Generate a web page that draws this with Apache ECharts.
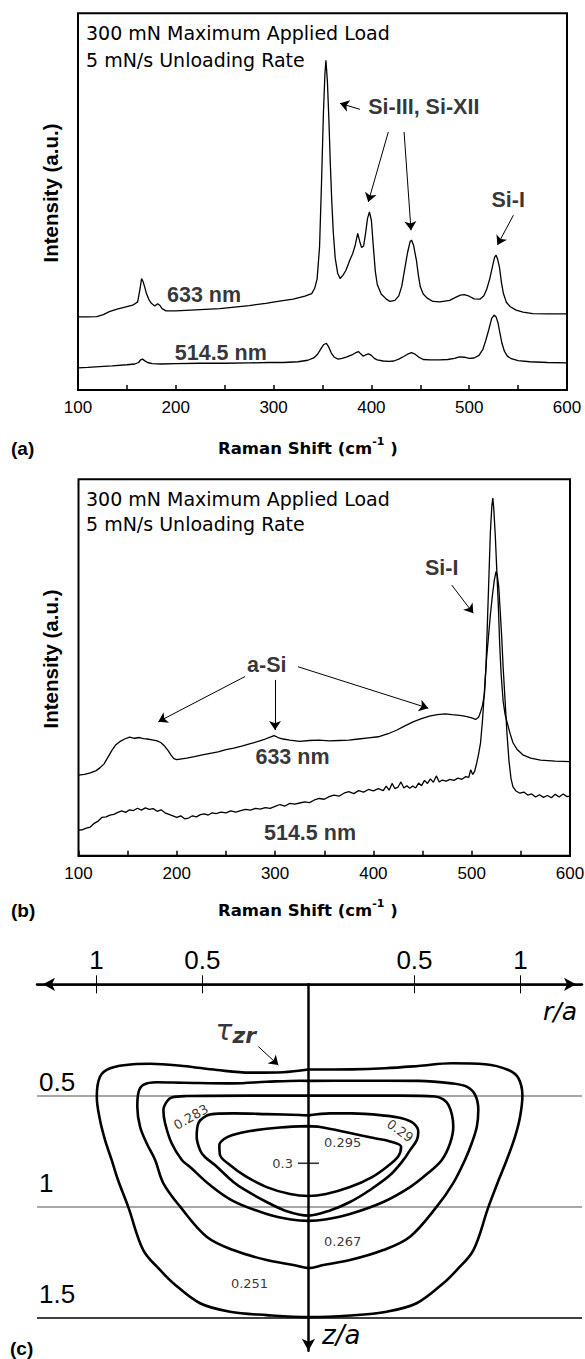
<!DOCTYPE html>
<html lang="en">
<head>
<meta charset="utf-8">
<title>Raman spectra and shear stress contours</title>
<script src="https://cdn.jsdelivr.net/npm/echarts@6.0.0/dist/echarts.min.js"></script>
<style>
  html, body { margin: 0; padding: 0; background: #fff; }
  #chart { width: 585px; height: 1359px; }
</style>
</head>
<body>
<div id="chart"></div>
<script>
// ---------- data ----------
// Raman shift ticks (cm-1)
const shiftTicks = [100, 200, 300, 400, 500, 600];

// (a) spectra: [Raman shift, intensity (a.u.)]
const spectrumA633 = [[100,19.4],[110,19.4],[119,19.5],[126,20.0],[132,20.8],[140,21.5],[148,22.0],[156,22.5],[161,23.4],[163.5,27],[165,29.6],[166.5,28.8],[168,27.5],[170,25.6],[172.5,24],[175,23],[178.5,22.3],[181.5,22.9],[183.5,22.5],[186,21.6],[190,21.0],[200,21.0],[215,21.2],[230,21.4],[245,21.6],[260,22.0],[275,22.4],[292,23.0],[306,23.6],[320,24.1],[332,24.9],[339,25.6],[342,27],[344.5,29.5],[347,38],[349,55],[351,74],[352.5,84],[353.5,87.5],[355,82],[356.5,72],[358,60],[359.5,50],[361,42],[363,35],[365.5,31],[368,29.6],[371,30.5],[374,31.8],[378,34.5],[381,36.3],[383.5,38.5],[386,41.6],[388,39.5],[390,37.8],[392,38.2],[394,41.5],[396,45.5],[398,47.3],[400,45],[402,38],[404,31.5],[406,28],[410,25.5],[415,24.2],[419,23.5],[424,23.8],[428,25],[431,27.5],[434,32],[437,36.5],[439.5,39.3],[441,39.8],[443,38.5],[446,34.5],[448,30.5],[450,27.4],[453,25.5],[457,24.4],[463,23.5],[470,23.4],[480,23.8],[486,24.6],[491,25.2],[495,25.3],[500,24.9],[505,24.2],[511,24.1],[515,25],[518,26.8],[521,29.5],[524,33],[526,35.3],[527.5,35.8],[529,34.8],[531,32.5],[533,28.5],[535,25.6],[538,23.3],[542,22.1],[548,21.2],[555,20.7],[565,20.3],[580,20.2],[600,20.2]];
const spectrumA514 = [[100,5.9],[110,6.0],[122,6.2],[135,6.4],[150,6.7],[158,6.9],[162,7.3],[164,8.0],[166,8.2],[168,7.8],[171,7.3],[176,7.0],[185,6.9],[200,7.0],[225,7.1],[250,7.1],[275,7.2],[295,7.3],[310,7.3],[325,7.5],[335,7.9],[341,8.5],[345,9.5],[348,10.8],[351,12.0],[354,12.4],[356,11.6],[359,9.8],[362,8.7],[366,8.2],[370,8.4],[375,8.8],[380,9.3],[384,9.9],[387,10.2],[389,9.6],[391.5,9.0],[394,9.3],[397,9.6],[400,9.2],[403,8.4],[406,8.0],[412,7.7],[418,7.6],[423,7.7],[428,8.2],[433,8.9],[437,9.5],[441,9.9],[444,9.6],[448,8.8],[453,8.1],[460,8.0],[470,8.0],[478,8.1],[485,8.4],[490,8.8],[495,8.7],[500,8.4],[505,8.5],[510,9.2],[514,10.8],[517,13.2],[520,16.0],[523,19.0],[525.5,19.9],[527.5,19.4],[529.5,17.8],[531.5,15.0],[533.5,12.4],[536,10.3],[539,9.0],[543,8.3],[550,7.8],[562,7.5],[580,7.3],[600,7.2]];

// (b) spectra: [Raman shift, intensity (a.u.)]
const spectrumB633 = [[100,21.4],[106,21.6],[112,22.0],[118,22.6],[122,23.4],[126,24.4],[130,26.2],[134,28.0],[138,29.5],[142,30.3],[147,31.0],[152,31.5],[157,31.2],[162,31.4],[166,31.1],[170,31.0],[175,30.8],[180,30.5],[184,30.0],[188,29.0],[191,28.0],[194,26.8],[197,25.8],[200,25.5],[205,25.7],[210,25.9],[218,26.3],[226,26.8],[234,27.2],[242,27.6],[250,28.2],[258,28.6],[266,29.1],[274,29.7],[282,30.3],[290,31.0],[295,31.5],[299,31.9],[303,31.4],[308,31.0],[315,30.7],[325,30.4],[335,30.6],[345,30.7],[355,30.5],[365,30.6],[375,30.7],[385,31.0],[395,31.3],[405,31.6],[415,32.4],[424,33.4],[432,34.5],[441,35.6],[449,36.4],[457,37.1],[465,37.5],[473,37.7],[480,37.5],[488,37.3],[494,37.0],[500,36.6],[504,36.2],[507,36.8],[509,38.2],[511,40.0],[513,43],[514.5,50],[516,62],[517.5,74],[519,86],[520.5,93],[521.5,95],[522.5,92],[524,85],[525.5,76],[527,67],[528.5,56],[530,48],[532,41],[534,37.5],[536,35.5],[539,32.5],[542,30],[546,28.3],[552,26.8],[560,25.9],[570,25.4],[585,25.1],[600,25.0]];
const spectrumB514 = [[100,6.8],[104,6.9],[108,7.3],[112,7.6],[116,8.6],[120,9.2],[124,10.2],[128,10.3],[132,10.8],[136,11.0],[140,11.5],[144,11.9],[148,11.5],[152,12.2],[156,12.0],[160,12.6],[164,12.1],[168,12.7],[172,12.3],[176,12.5],[180,11.8],[184,12.2],[188,11.4],[192,11.0],[196,10.6],[200,10.2],[204,10.6],[208,9.8],[212,10.0],[216,10.6],[220,10.3],[224,10.9],[228,11.1],[232,10.8],[236,11.4],[240,11.2],[245,11.6],[250,11.4],[255,11.9],[260,11.6],[265,12.0],[270,12.3],[275,12.1],[280,12.6],[285,12.4],[290,12.8],[295,12.6],[300,13.1],[305,13.6],[310,13.2],[315,13.9],[320,13.7],[325,14.0],[330,14.3],[335,14.1],[340,14.8],[345,15.2],[350,15.0],[355,15.7],[360,16.1],[365,15.8],[370,16.6],[375,17.0],[380,16.5],[385,17.3],[390,16.9],[395,17.6],[400,17.2],[405,17.8],[410,17.3],[413,18.5],[416,17.4],[419,19.2],[422,17.8],[425,18.2],[428,19.6],[431,18.0],[434,18.6],[437,17.9],[440,18.5],[443,18.0],[446,19.3],[449,18.6],[452,20.0],[455,19.2],[458,20.4],[461,19.5],[464,21.2],[467,19.6],[470,20.1],[474,19.8],[478,20.3],[482,20.0],[486,20.6],[490,20.3],[494,21.0],[497,20.8],[499,22.8],[501,21.6],[503,22.4],[505,24.5],[507,27],[509,30],[511,36],[513,44],[515,52],[517,58],[519,64],[521,69],[523,73.2],[524.7,75.5],[526,74.5],[527.5,71.5],[529,65],[530.5,58.2],[532,50],[534,41],[536,32],[538,25],[540,20.5],[542,18.3],[545,17.2],[549,16.6],[553,16.9],[557,16.1],[561,16.4],[565,15.6],[569,16.2],[573,15.5],[577,16.0],[581,15.4],[585,16.3],[589,15.6],[593,16.4],[597,15.7],[600,15.8]];

// peak labels [Raman shift, intensity] and arrows [from, to]
const peakLabelsA = [
  { text: 'Si-III, Si-XII', at: [453.6, 75.1] },
  { text: 'Si-I', at: [539.8, 50.4] },
  { text: '633 nm', at: [228.9, 25.2] },
  { text: '514.5 nm', at: [246.0, 9.9] }
];
const peakArrowsA = [
  [[388.3, 74.5], [367.9, 76.1]],
  [[417.3, 68.5], [396.8, 49.9]],
  [[433.4, 68.5], [440.5, 42.4]],
  [[545.2, 46.4], [528.9, 38.5]]
];
const peakLabelsB = [
  { text: 'a-Si', at: [291.5, 50.7] },
  { text: 'Si-I', at: [469.5, 76.4] },
  { text: '633 nm', at: [317.7, 26.2] },
  { text: '514.5 nm', at: [335.5, 6.1] }
];
const peakArrowsB = [
  [[269.4, 47.6], [181.2, 35.6]],
  [[299.9, 46.7], [299.9, 33.4]],
  [[323.3, 50.2], [455.8, 39.2]],
  [[479.7, 71.9], [501.6, 64.4]]
];
const conditions = ['300 mN Maximum Applied Load', '5 mN/s Unloading Rate'];

// (c) tau_zr contours: closed loops of [r/a, z/a]
const contour0251 = [[0,0.383],[0.204,0.382],[0.361,0.377],[0.518,0.367],[0.676,0.355],[0.833,0.359],[0.943,0.385],[0.990,0.422],[1.009,0.500],[0.998,0.595],[0.974,0.685],[0.935,0.789],[0.897,0.879],[0.848,1.002],[0.778,1.194],[0.699,1.284],[0.636,1.343],[0.510,1.433],[0.369,1.471],[0.196,1.488],[0,1.495],[-0.197,1.486],[-0.370,1.471],[-0.511,1.433],[-0.637,1.343],[-0.700,1.283],[-0.779,1.194],[-0.849,1.002],[-0.898,0.879],[-0.928,0.789],[-0.959,0.700],[-0.983,0.610],[-0.998,0.505],[-0.983,0.415],[-0.935,0.377],[-0.827,0.359],[-0.747,0.357],[-0.591,0.367],[-0.432,0.385],[-0.275,0.397],[-0.120,0.395],[0,0.383]];
const contour0267 = [[0,0.434],[0.204,0.433],[0.518,0.434],[0.676,0.445],[0.746,0.460],[0.786,0.497],[0.801,0.565],[0.794,0.640],[0.770,0.714],[0.738,0.789],[0.682,0.894],[0.605,0.999],[0.479,1.134],[0.353,1.194],[0.196,1.239],[0.070,1.261],[0,1.275],[-0.071,1.261],[-0.197,1.239],[-0.354,1.194],[-0.480,1.134],[-0.605,0.999],[-0.684,0.894],[-0.723,0.789],[-0.763,0.714],[-0.794,0.640],[-0.807,0.550],[-0.802,0.488],[-0.779,0.452],[-0.715,0.440],[-0.590,0.442],[-0.354,0.445],[-0.197,0.438],[-0.040,0.433],[0,0.434]];
const contour0283 = [[0,0.5],[0.196,0.5],[0.432,0.5],[0.597,0.504],[0.636,0.517],[0.660,0.542],[0.677,0.587],[0.683,0.640],[0.668,0.714],[0.629,0.789],[0.564,0.848],[0.479,0.911],[0.353,0.978],[0.196,1.032],[0.078,1.057],[0,1.063],[-0.082,1.057],[-0.197,1.032],[-0.354,0.974],[-0.464,0.902],[-0.558,0.821],[-0.597,0.789],[-0.645,0.714],[-0.676,0.624],[-0.684,0.565],[-0.668,0.527],[-0.645,0.508],[-0.574,0.502],[-0.275,0.5],[0,0.5]];
const contour0290 = [[0,0.589],[0.102,0.580],[0.204,0.580],[0.361,0.590],[0.440,0.602],[0.495,0.624],[0.518,0.662],[0.511,0.700],[0.479,0.745],[0.448,0.789],[0.385,0.857],[0.290,0.924],[0.196,0.978],[0.102,1.016],[0,1.039],[-0.106,1.018],[-0.197,0.978],[-0.299,0.924],[-0.354,0.888],[-0.441,0.812],[-0.488,0.776],[-0.511,0.745],[-0.527,0.685],[-0.519,0.624],[-0.480,0.590],[-0.440,0.582],[-0.354,0.580],[-0.197,0.583],[-0.040,0.587],[0,0.589]];
const contour0295 = [[0,0.637],[0.055,0.641],[0.196,0.668],[0.314,0.692],[0.385,0.706],[0.437,0.730],[0.423,0.774],[0.375,0.816],[0.300,0.866],[0.196,0.911],[0.083,0.942],[0,0.951],[-0.087,0.942],[-0.197,0.911],[-0.299,0.861],[-0.370,0.812],[-0.417,0.767],[-0.420,0.722],[-0.398,0.695],[-0.358,0.677],[-0.275,0.659],[-0.134,0.643],[0,0.637]];
const contours = [contour0251, contour0267, contour0283, contour0290, contour0295];

// contour level labels at [r/a, z/a]
const contourNotes = [
  { text: '0.283', at: [-0.554, 0.596] },
  { text: '0.29',  at: [0.432, 0.658] },
  { text: '0.295', at: [0.161, 0.710] },
  { text: '0.267', at: [0.161, 1.156] },
  { text: '0.251', at: [-0.278, 1.343] }
];
const peakStress = { value: 0.3, at: [0, 0.804] };
const stressSymbol = { text: ['τ', 'zr'], at: [-0.438, 0.146], arrow: [[-0.236, 0.280], [-0.142, 0.363]] };
const rTicks = [-1, -0.5, 0.5, 1];
const zTicks = [0.5, 1, 1.5];
const rRange = [-1.28, 1.29];
const zRange = [0, 1.646];

// ---------- chart ----------
const BLACK = '#000';
const SANS = '"Liberation Sans", Arial, sans-serif';
const WIDE = '"DejaVu Sans", Verdana, sans-serif';

function shiftAxis(grid) {
  return {
    type: 'value', gridIndex: grid,
    min: shiftTicks[0], max: shiftTicks[shiftTicks.length - 1], interval: shiftTicks[1] - shiftTicks[0],
    axisLine: { show: true, onZero: false, lineStyle: { color: BLACK, width: 2 } },
    axisTick: { show: true, inside: true, length: 5, lineStyle: { color: BLACK, width: 1.5 } },
    minorTick: { show: true, splitNumber: 2, length: 5, lineStyle: { color: BLACK, width: 1.5 } },
    axisLabel: { color: BLACK, fontFamily: SANS, fontSize: 17, margin: 9 },
    splitLine: { show: false }
  };
}
function intensityAxis(grid) {
  return { type: 'value', gridIndex: grid, min: 0, max: 100, show: false, axisLine: { onZero: false } };
}
function trace(data, idx) {
  return {
    type: 'line', xAxisIndex: idx, yAxisIndex: idx, data: data,
    symbol: 'none', showSymbol: false, silent: true, animation: false, z: 3,
    lineStyle: { color: BLACK, width: 1.3 }
  };
}
function arrowLines(arrows, size) {
  return {
    silent: true, animation: false, symbol: ['none', 'arrow'], symbolSize: size,
    label: { show: false }, emphasis: { disabled: true },
    lineStyle: { color: BLACK, width: 1, type: 'solid' },
    data: arrows.map(a => [{ coord: a[0] }, { coord: a[1] }])
  };
}
function notes(labels, arrows, idx) {
  return {
    type: 'scatter', xAxisIndex: idx, yAxisIndex: idx, symbolSize: 0, silent: true, animation: false, z: 5,
    data: labels.map(l => ({ value: l.at, name: l.text })),
    label: { show: true, position: 'inside', formatter: '{b}', color: BLACK, fontFamily: SANS, fontWeight: 'bold', fontSize: 21.5 },
    markLine: arrowLines(arrows, 9)
  };
}
function contourLine(data) {
  return {
    type: 'line', xAxisIndex: 2, yAxisIndex: 2, data: data, smooth: 0.35,
    symbol: 'none', showSymbol: false, silent: true, animation: false, clip: false, z: 3,
    lineStyle: { color: BLACK, width: 2.6 }
  };
}
const noteAngles = { '0.283': 30, '0.29': -36 };

function textEl(x, y, text, font, align, rotation) {
  return {
    type: 'text', x: x, y: y, rotation: rotation || 0, silent: true,
    style: { text: text, font: font, fill: BLACK, textAlign: align || 'left', textVerticalAlign: 'middle' }
  };
}
function shiftTitle(y) {
  return {
    type: 'text', x: 218, y: y, silent: true,
    style: {
      text: '{a|Raman Shift (cm}{b|-1}{a| )}', fill: BLACK, textAlign: 'left', textVerticalAlign: 'middle',
      rich: {
        a: { font: 'bold 16.5px ' + WIDE, fill: BLACK, lineHeight: 24, verticalAlign: 'middle' },
        b: { font: 'bold 11px ' + WIDE, fill: BLACK, lineHeight: 12, verticalAlign: 'top' }
      }
    }
  };
}

// pixel scale of the contour panel: 222.6 px per unit of z/a
const zScale = 222.6;

const option = {
  backgroundColor: '#fff',
  animation: false,
  grid: [
    { left: 78, top: 13.3, width: 489, height: 376.7, show: true, borderColor: BLACK, borderWidth: 2, backgroundColor: 'transparent', outerBoundsMode: 'none' },
    { left: 78.5, top: 479.3, width: 491.5, height: 376.4, show: true, borderColor: BLACK, borderWidth: 2, backgroundColor: 'transparent', outerBoundsMode: 'none' },
    { left: 37, top: 984.3, width: 545, height: (zRange[1] - zRange[0]) * zScale, show: false, outerBoundsMode: 'none' }
  ],
  xAxis: [
    shiftAxis(0),
    shiftAxis(1),
    { // r/a axis with outward ticks and labels
      type: 'value', gridIndex: 2, min: rRange[0], max: rRange[1], position: 'top',
      axisLine: { show: true, onZero: false, symbol: ['arrow', 'arrow'], symbolSize: [10, 12], symbolOffset: [6, -6], lineStyle: { color: BLACK, width: 2.5 } },
      axisTick: { show: true, inside: false, length: 9, customValues: rTicks, lineStyle: { color: BLACK, width: 1 } },
      axisLabel: { show: true, customValues: rTicks, formatter: v => String(Math.abs(v)), color: BLACK, fontFamily: SANS, fontSize: 26, margin: 11 },
      splitLine: { show: false }
    },
    { // inward half of the r/a ticks
      type: 'value', gridIndex: 2, min: rRange[0], max: rRange[1],
      axisLine: { show: false, onZero: true },
      axisTick: { show: true, inside: false, length: 9, customValues: rTicks, lineStyle: { color: BLACK, width: 1 } },
      axisLabel: { show: false },
      splitLine: { show: false }
    }
  ],
  yAxis: [
    intensityAxis(0),
    intensityAxis(1),
    { // z/a axis drawn through r = 0, arrow pointing down
      type: 'value', gridIndex: 2, inverse: true, min: zRange[0], max: zRange[1], interval: 0.5, position: 'right',
      axisLine: { show: true, onZero: true, symbol: ['arrow', 'none'], symbolSize: [10, 12], lineStyle: { color: BLACK, width: 2.5 } },
      axisTick: { show: false },
      axisLabel: { show: false },
      splitLine: { show: true, showMaxLine: false, lineStyle: { color: [BLACK, '#8a8a8a', '#8a8a8a', BLACK], width: 1.5 } }
    },
    { // depth labels at the left edge
      type: 'value', gridIndex: 2, inverse: true, min: zRange[0], max: zRange[1], interval: 0.5, position: 'left',
      axisLine: { show: false, onZero: false },
      axisTick: { show: false },
      splitLine: { show: false },
      axisLabel: {
        show: true, inside: true, align: 'left', verticalAlign: 'bottom', margin: 2,
        formatter: v => zTicks.indexOf(v) < 0 ? '' : (v === zTicks[0] ? '{a|' + v + '}' : '{b|' + v + '}'),
        rich: {
          a: { fontFamily: SANS, fontSize: 26, color: BLACK, padding: [0, 0, 1, 0] },
          b: { fontFamily: SANS, fontSize: 26, color: BLACK, padding: [0, 0, 11, 0] }
        }
      }
    }
  ],
  series: [
    trace(spectrumA633, 0),
    trace(spectrumA514, 0),
    notes(peakLabelsA, peakArrowsA, 0),
    trace(spectrumB633, 1),
    trace(spectrumB514, 1),
    notes(peakLabelsB, peakArrowsB, 1),
    ...contours.map(contourLine),
    {
      type: 'scatter', xAxisIndex: 2, yAxisIndex: 2, symbolSize: 0, silent: true, animation: false, z: 6,
      data: contourNotes.map(n => ({ value: n.at, name: n.text, label: { rotate: noteAngles[n.text] || 0 } })),
      label: { show: true, position: 'inside', formatter: '{b}', color: BLACK, fontFamily: WIDE, fontSize: 13 }
    },
    {
      type: 'scatter', xAxisIndex: 2, yAxisIndex: 2, symbol: 'rect', symbolSize: [21, 1.6], silent: true, animation: false, z: 6,
      itemStyle: { color: BLACK },
      data: [{ value: peakStress.at, name: String(peakStress.value) }],
      label: { show: true, position: 'left', distance: 5, formatter: '{b}', color: BLACK, fontFamily: WIDE, fontSize: 13 }
    },
    {
      type: 'scatter', xAxisIndex: 2, yAxisIndex: 2, symbolSize: 0, silent: true, animation: false, z: 6,
      data: [{ value: stressSymbol.at, name: 'tau' }],
      label: {
        show: true, position: [0, 0], align: 'left', verticalAlign: 'top',
        formatter: '{t|' + stressSymbol.text[0] + '}{s|' + stressSymbol.text[1] + '}',
        rich: {
          t: { fontFamily: WIDE, fontStyle: 'italic', fontSize: 28, color: BLACK, lineHeight: 30, verticalAlign: 'top' },
          s: { fontFamily: WIDE, fontStyle: 'italic', fontWeight: 'bold', fontSize: 22, color: BLACK, lineHeight: 22, padding: [17, 0, 0, 0], verticalAlign: 'bottom' }
        }
      },
      markLine: arrowLines([stressSymbol.arrow], 9)
    }
  ],
  graphic: [
    textEl(86, 33.3, conditions[0], '19px ' + WIDE),
    textEl(86, 60, conditions[1], '19px ' + WIDE),
    textEl(86, 498.7, conditions[0], '19px ' + WIDE),
    textEl(86, 524, conditions[1], '19px ' + WIDE),
    textEl(50.5, 193, 'Intensity (a.u.)', 'bold 20.5px ' + SANS, 'center', Math.PI / 2),
    textEl(50.5, 659, 'Intensity (a.u.)', 'bold 20.5px ' + SANS, 'center', Math.PI / 2),
    shiftTitle(448),
    shiftTitle(910),
    textEl(11, 448.3, '(a)', 'bold 19px ' + SANS),
    textEl(11, 910, '(b)', 'bold 19px ' + SANS),
    textEl(10, 1348, '(c)', 'bold 19px ' + SANS),
    textEl(543, 1011.7, 'r/a', 'italic 25px ' + WIDE),
    textEl(322, 1335, 'z/a', 'italic 26px ' + WIDE)
  ]
};

const chart = echarts.init(document.getElementById('chart'), null, { renderer: 'svg', width: 585, height: 1359 });
chart.setOption(option);
</script>
</body>
</html>
